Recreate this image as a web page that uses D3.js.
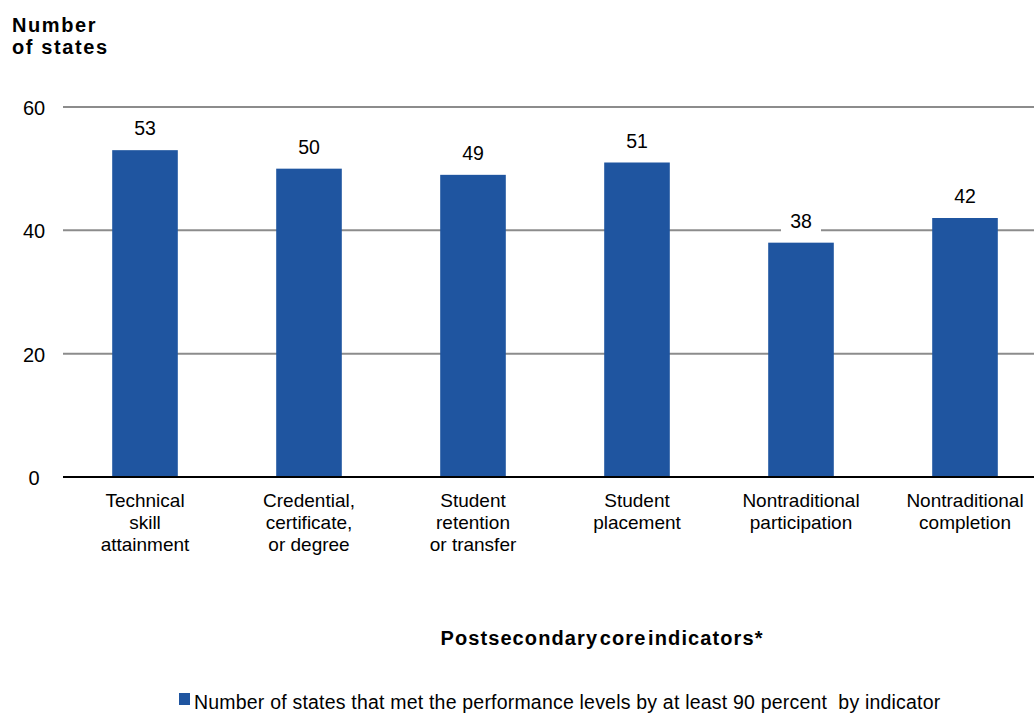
<!DOCTYPE html>
<html>
<head>
<meta charset="utf-8">
<script src="https://cdn.jsdelivr.net/npm/d3@7"></script>
<style>
  html, body { margin: 0; padding: 0; background: #fff; }
  text { font-family: "Liberation Sans", Arial, sans-serif; fill: #000; }
</style>
</head>
<body>
<svg id="chart" width="1034" height="713"></svg>
<script>
// Postsecondary core indicators: number of states meeting performance levels
const categories = [
  ["Technical", "skill", "attainment"],
  ["Credential,", "certificate,", "or degree"],
  ["Student", "retention", "or transfer"],
  ["Student", "placement"],
  ["Nontraditional", "participation"],
  ["Nontraditional", "completion"]
];
const values = [53, 50, 49, 51, 38, 42];
const yTicks = [0, 20, 40, 60];
const legendLabel = "Number of states that met the performance levels by at least 90 percent  by indicator";
const xTitle = "Postsecondary core indicators*";
const yTitle = ["Number", "of states"];

const svg = d3.select("#chart");
const plotLeft = 63, plotRight = 1047, plotTop = 107, plotBottom = 477;
const barColor = "#1F55A0";

const x = d3.scaleBand()
  .domain(d3.range(values.length))
  .range([plotLeft, plotRight])
  .paddingInner(0.6)
  .paddingOuter(0.3);

const y = d3.scaleLinear().domain([0, 60]).range([plotBottom, plotTop]);

// gridlines
svg.append("g").selectAll("line")
  .data(yTicks.filter(d => d > 0))
  .join("line")
  .attr("x1", plotLeft).attr("x2", 1034)
  .attr("y1", d => y(d)).attr("y2", d => y(d))
  .attr("stroke", "#8c8c8c").attr("stroke-width", 2);

// y tick labels
svg.append("g").selectAll("text")
  .data(yTicks)
  .join("text")
  .attr("x", 34).attr("y", d => y(d) + 8)
  .attr("text-anchor", "middle")
  .attr("font-size", 20)
  .text(d => d);

// bars
svg.append("g").selectAll("rect")
  .data(values)
  .join("rect")
  .attr("x", (d, i) => x(i))
  .attr("y", d => y(d))
  .attr("width", x.bandwidth())
  .attr("height", d => y(0) - y(d))
  .attr("fill", barColor);

// baseline
svg.append("line")
  .attr("x1", plotLeft).attr("x2", 1034)
  .attr("y1", y(0)).attr("y2", y(0))
  .attr("stroke", "#000").attr("stroke-width", 2);

// value labels with white backing
const vl = svg.append("g").selectAll("g")
  .data(values)
  .join("g")
  .attr("transform", (d, i) => `translate(${x(i) + x.bandwidth() / 2},${y(d) - 15})`);
vl.append("rect")
  .attr("x", -20).attr("y", -20).attr("width", 40).attr("height", 29)
  .attr("fill", "#fff");
vl.append("text")
  .attr("text-anchor", "middle")
  .attr("y", 0)
  .attr("font-size", 19.5)
  .text(d => d);

// category labels
const cl = svg.append("g").selectAll("text")
  .data(categories)
  .join("text")
  .attr("text-anchor", "middle")
  .attr("font-size", 19)
  .attr("transform", (d, i) => `translate(${x(i) + x.bandwidth() / 2},507)`);
cl.selectAll("tspan")
  .data(d => d)
  .join("tspan")
  .attr("x", 0)
  .attr("dy", (d, j) => j === 0 ? 0 : 22)
  .text(d => d);

// y axis title
svg.append("text")
  .attr("x", 12).attr("y", 32)
  .attr("font-size", 20).attr("font-weight", "bold")
  .attr("letter-spacing", 1.6)
  .selectAll("tspan")
  .data(yTitle)
  .join("tspan")
  .attr("x", 12)
  .attr("dy", (d, j) => j === 0 ? 0 : 22)
  .text(d => d);

// x axis title
svg.append("text")
  .attr("x", 602).attr("y", 645)
  .attr("text-anchor", "middle")
  .attr("font-size", 20).attr("font-weight", "bold")
  .attr("letter-spacing", 1.1)
  .attr("word-spacing", -5)
  .text(xTitle);

// legend
svg.append("rect")
  .attr("x", 179).attr("y", 693).attr("width", 11).attr("height", 12)
  .attr("fill", barColor);
svg.append("text")
  .attr("x", 194).attr("y", 709)
  .attr("font-size", 19.5)
  .attr("letter-spacing", 0.2)
  .style("white-space", "pre")
  .text(legendLabel);
</script>
</body>
</html>
